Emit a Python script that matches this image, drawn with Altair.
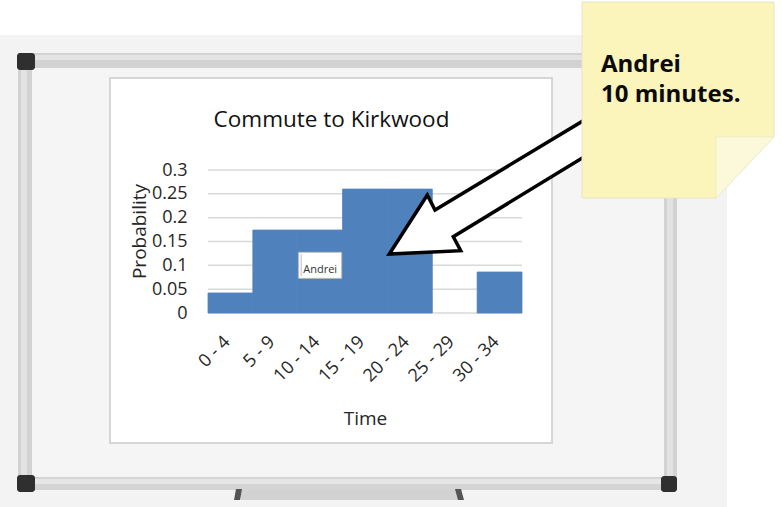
import altair as alt
import pandas as pd

# ---------------- data ----------------
categories = ["0 - 4", "5 - 9", "10 - 14", "15 - 19", "20 - 24", "25 - 29", "30 - 34"]
probabilities = [0.042, 0.174, 0.174, 0.26, 0.26, 0.0, 0.086]
y_ticks = [0, 0.05, 0.1, 0.15, 0.2, 0.25, 0.3]
chart_title = "Commute to Kirkwood"
x_title = "Time"
y_title = "Probability"
annot_category = "10 - 14"
annot_value = 0.1
annot_label = "Andrei"
note_lines = ["Andrei", "10 minutes."]

# ---------------- layout ----------------
W, H = 782, 507
PL, PT = 208, 170          # plot origin on the page
PW, PH = 314, 143          # plot size
PR = W - PL - PW
PB = H - PT - PH
FONT = "Open Sans"
one = alt.Data(values=[{"k": 1}])


def rect(x0, y0, x1, y1, **kw):
    return alt.Chart(one).mark_rect(**kw).encode(
        x=alt.value(x0 - PL), x2=alt.value(x1 - PL),
        y=alt.value(y0 - PT), y2=alt.value(y1 - PT))


def poly(points, **kw):
    d = "M" + " L".join(f"{x - PL:.1f},{y - PT:.1f}" for x, y in points) + " Z"
    return alt.Chart(one).mark_point(shape=d, size=4, opacity=1, filled=True, **kw).encode(
        x=alt.value(0), y=alt.value(0))


def text(t, x, y, **kw):
    return alt.Chart(one).mark_text(text=t, font=FONT, **kw).encode(
        x=alt.value(x - PL), y=alt.value(y - PT))


# ---------------- scenery: whiteboard ----------------
scenery = [
    rect(0, 35, 727, 507, fill="#f3f3f3"),
    rect(32, 68, 664, 477, fill="#f5f5f5"),
    # frame
    rect(18, 53, 677, 68, fill="#d2d2d2"),
    rect(18, 55, 677, 60, fill="#e4e4e4"),
    rect(18, 60, 32, 485, fill="#d2d2d2"),
    rect(21, 60, 27, 485, fill="#e2e2e2"),
    rect(664, 60, 677, 485, fill="#d2d2d2"),
    rect(667, 60, 673, 485, fill="#e2e2e2"),
    rect(18, 477, 677, 490, fill="#d4d4d4"),
    rect(18, 479, 677, 484, fill="#e6e6e6"),
    rect(17, 53, 35, 70, fill="#2f2f2f", cornerRadius=3),
    rect(17, 475, 35, 492, fill="#2f2f2f", cornerRadius=3),
    rect(661, 476, 677, 492, fill="#2f2f2f", cornerRadius=3),
    # tray
    poly([(237, 490), (462, 490), (458, 500), (241, 500)], fill="#d2d2d2", strokeWidth=0),
    poly([(236, 489), (242, 489), (240, 500), (234, 500)], fill="#555555", strokeWidth=0),
    poly([(455, 489), (461, 489), (464, 500), (458, 500)], fill="#555555", strokeWidth=0),
    # chart panel
    rect(110, 78, 552, 443, fill="#ffffff", stroke="#d6d6d6", strokeWidth=2),
]

# ---------------- data layers ----------------
df = pd.DataFrame({"Time": categories, "Probability": probabilities})
grid_df = pd.DataFrame({"Probability": y_ticks})
annot_df = pd.DataFrame({"Time": [annot_category], "Probability": [annot_value], "label": [annot_label]})

xscale = alt.Scale(domain=categories, paddingInner=0, paddingOuter=0)
yscale = alt.Scale(domain=[0, 0.3], nice=False, zero=True)

x_axis = alt.Axis(
    title=x_title, labelAngle=-45, labelAlign="right", labelBaseline="middle",
    labelPadding=26, labelOffset=-3, ticks=False, tickSize=0, domain=False, grid=False,
    labelFont=FONT, labelFontSize=18, labelColor="#262626",
    titleFont=FONT, titleFontSize=19, titleFontWeight="normal", titleColor="#262626",
    titleX=PW / 2, titleY=424 - (PT + PH), titleBaseline="alphabetic", titleAlign="center",
    zindex=1)
y_axis = alt.Axis(
    title=y_title, values=y_ticks, format=".2~f", labelPadding=21, ticks=False, tickSize=0,
    domain=False, grid=False, labelFont=FONT, labelFontSize=18, labelColor="#262626",
    titleFont=FONT, titleFontSize=19, titleFontWeight="normal", titleColor="#262626",
    titleX=145 - PL, titleY=231 - PT, titleBaseline="alphabetic", titleAlign="center",
    titleAngle=270, zindex=1)

x_enc = alt.X("Time:N", scale=xscale, axis=x_axis, sort=categories)
y_enc = alt.Y("Probability:Q", scale=yscale, axis=y_axis)

grid = alt.Chart(grid_df).mark_rule(color="#d9d9d9", strokeWidth=1.5).encode(y=y_enc)
bars = alt.Chart(df).transform_filter("datum.Probability > 0").mark_bar(
    color="#4f81bd", stroke="#4f81bd", strokeWidth=0.8
).encode(x=x_enc, y=y_enc)
annot_box = alt.Chart(annot_df).mark_point(
    shape="M-21.5,-13 L21.5,-13 L21.5,13 L-21.5,13 Z M-19,-11 L-19,11",
    size=4, filled=True, fill="#ffffff", stroke="#bdbdbd", strokeWidth=1, opacity=1
).encode(x=x_enc, y=y_enc)
annot_text = alt.Chart(annot_df).mark_text(
    font=FONT, fontSize=11, color="#333333", baseline="alphabetic", dy=7.5
).encode(x=x_enc, y=y_enc, text="label:N")

# ---------------- overlay: title, arrow, sticky note ----------------
overlay = [
    text(chart_title, 331.5, 127, fontSize=22.5, color="#111111", align="center", baseline="alphabetic"),
    poly([(389.3, 254), (427.3, 195), (435, 210), (590, 116.7), (607.3, 142.7),
          (453.3, 236.7), (460.7, 250.7)],
         fill="#ffffff", stroke="#000000", strokeWidth=3.5, strokeJoin="miter", strokeMiterLimit=10),
    poly([(582, 2), (774, 2), (774, 137), (716, 198), (582, 198)],
         fill="#fbf4bb", stroke="#e9e5c8", strokeWidth=1),
    poly([(716, 137), (774, 137), (716, 198)], fill="#fcf8da", stroke="#eeeacc", strokeWidth=0.8),
    text(note_lines[0], 601, 72, fontSize=24, fontWeight="bold", color="#0a0a0a",
         align="left", baseline="alphabetic"),
    text(note_lines[1], 601, 102, fontSize=24, fontWeight="bold", color="#0a0a0a",
         align="left", baseline="alphabetic"),
]

chart = alt.layer(
    *scenery, grid, bars, annot_box, annot_text, *overlay
).properties(
    width=PW, height=PH,
    padding={"left": PL, "top": PT, "right": PR, "bottom": PB},
    autosize=alt.AutoSizeParams(type="none"),
    background="#ffffff",
).configure_view(stroke=None)

chart.save("out.html", embed_options={"renderer": "svg", "actions": False})
